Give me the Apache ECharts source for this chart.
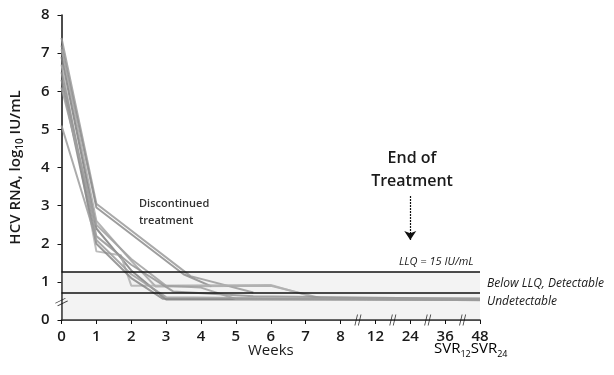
<!DOCTYPE html>
<html>
<head>
<meta charset="utf-8">
<style>
    html, body { margin: 0; padding: 0; overflow: hidden; background: #fff; }
</style>
</head>
<body>
<div id="chart" style="width:614px; height:375px;"></div>
<script src="https://cdn.jsdelivr.net/npm/echarts@6/dist/echarts.min.js"></script>
<script>
    // x positions 0..12 stand for these week labels (axis is broken after 8)
    var weekLabels = ['0', '1', '2', '3', '4', '5', '6', '7', '8', '12', '24', '36', '48'];
    var yTicks = [0, 1, 2, 3, 4, 5, 6, 7, 8];

    var llq = 1.26;          // LLQ = 15 IU/mL line
    var detectLimit = 0.71;  // boundary between detectable and undetectable
    var endOfTreatment = 10; // index of week 24

    // individual patients, [week index, log10 IU/mL]
    var patient1 = [[0, 7.4], [1, 3.05], [3.7, 1.15], [5.5, 0.72]];
    var patient2 = [[0, 7.2], [1, 2.95], [3.5, 1.2], [4.3, 0.88]];
    var patient3 = [[0, 7.1], [1, 2.6], [2, 1.55], [2.7, 0.88], [6, 0.9], [7.5, 0.56], [12, 0.56]];
    var patient4 = [[0, 6.9], [1, 2.4], [2, 1.3], [3, 0.54], [12, 0.54]];
    var patient5 = [[0, 6.7], [1, 1.8], [1.7, 1.7], [2, 0.9], [6, 0.92], [7.3, 0.58], [12, 0.57]];
    var patient6 = [[0, 6.5], [1, 2.2], [2, 1.45], [3.2, 0.75], [5.5, 0.62], [12, 0.55]];
    var patient7 = [[0, 6.3], [1, 2.0], [2, 1.1], [2.9, 0.56], [12, 0.53]];
    var patient8 = [[0, 6.1], [1, 2.5], [2, 1.6], [3, 0.9], [4, 0.85], [5, 0.55], [12, 0.55]];
    var patient9 = [[0, 5.1], [1, 2.1], [2, 1.2], [3, 0.6], [12, 0.52]];
    var patients = [patient1, patient2, patient3, patient4, patient5, patient6, patient7, patient8, patient9];

    // where the axes are broken
    var xBreaks = [8.5, 9.5, 10.5, 11.5];
    var yBreak = 0.47;

    var chart = echarts.init(document.getElementById('chart'), null, {renderer: 'canvas'});
    var font = 'Open Sans';
    var ink = '#1a1a1a';
    var lineGray = ['#9a9a9a', '#8c8c8c', '#a6a6a6', '#7f7f7f', '#b0b0b0', '#949494', '#888888', '#a0a0a0', '#9c9c9c'];

    var series = patients.map(function (p, i) {
        return {
            type: 'line',
            data: p,
            symbol: 'none',
            z: 3,
            lineStyle: {color: lineGray[i], width: 2, opacity: 0.85}
        };
    });

    // shaded band, limit lines and end-of-treatment arrow
    series.push({
        type: 'line',
        data: [],
        markArea: {
            silent: true,
            itemStyle: {color: 'rgba(200,200,200,0.22)'},
            data: [[{coord: [0, 0]}, {coord: [12, llq]}]]
        },
        markLine: {
            silent: true,
            symbol: 'none',
            label: {show: false},
            lineStyle: {color: '#111', width: 1.6, type: 'solid'},
            data: [
                [{coord: [0, llq]}, {coord: [12, llq]}],
                [{coord: [0, detectLimit]}, {coord: [12, detectLimit]}],
                [{coord: [endOfTreatment, 3.25], symbol: 'none'},
                 {coord: [endOfTreatment, 2.1], symbol: 'arrow', symbolSize: 9, lineStyle: {width: 1.2, type: [2, 1]}}]
            ]
        }
    });

    // break marks
    var breakSymbol = 'path://M0,10L3,0L4,0L1,10Z M4,10L7,0L8,0L5,10Z';
    series.push({
        type: 'scatter',
        data: xBreaks.map(function (x) { return [x, 0]; }),
        symbol: breakSymbol,
        symbolSize: [7, 11],
        itemStyle: {color: '#111'},
        z: 5,
        silent: true
    });
    series.push({
        type: 'scatter',
        data: [[0, yBreak]],
        symbol: breakSymbol,
        symbolSize: [7, 11],
        symbolRotate: -50,
        itemStyle: {color: '#111'},
        z: 5,
        silent: true
    });

    var subRich = {
        a: {fontFamily: font, fontSize: 15, color: ink, lineHeight: 20},
        s: {fontFamily: font, fontSize: 9, color: ink, lineHeight: 20, verticalAlign: 'bottom', padding: [0, 0, 0, 0]}
    };

    var option = {
        animation: false,
        backgroundColor: '#fff',
        grid: {left: 61, right: 134, top: 15, bottom: 55},
        xAxis: {
            type: 'value',
            min: 0,
            max: 12,
            interval: 1,
            axisLine: {lineStyle: {color: '#111', width: 1.5}},
            axisTick: {show: true, length: 4, lineStyle: {color: '#111'}},
            splitLine: {show: false},
            axisLabel: {
                color: ink,
                fontFamily: font,
                fontSize: 15,
                fontWeight: 600,
                margin: 9,
                formatter: function (v) { return weekLabels[v]; }
            }
        },
        yAxis: {
            type: 'value',
            min: yTicks[0],
            max: yTicks[yTicks.length - 1],
            interval: 1,
            name: '{a|HCV RNA, log}{s|10}{a| IU/mL}',
            nameLocation: 'middle',
            nameGap: 36,
            nameTextStyle: {
                rich: {
                    a: {fontFamily: font, fontSize: 15, fontWeight: 600, color: ink, lineHeight: 20},
                    s: {fontFamily: font, fontSize: 10, fontWeight: 600, color: ink, lineHeight: 20, verticalAlign: 'bottom'}
                }
            },
            axisLine: {show: true, lineStyle: {color: '#111', width: 1.5}},
            axisTick: {show: true, length: 4, lineStyle: {color: '#111'}},
            splitLine: {show: false},
            axisLabel: {color: ink, fontFamily: font, fontSize: 15, fontWeight: 600, margin: 12}
        },
        graphic: [
            {type: 'text', left: 248, top: 343, style: {text: 'Weeks', font: '15px "Open Sans"', fill: ink}},
            {type: 'text', left: 434, top: 341, style: {
                text: '{a|SVR}{s|12}{a|SVR}{s|24}',
                rich: subRich
            }},
            {type: 'text', x: 412, y: 150, style: {text: 'End of', font: '600 16px "Open Sans"', fill: ink, align: 'center'}},
            {type: 'text', x: 412, y: 173, style: {text: 'Treatment', font: '600 16px "Open Sans"', fill: ink, align: 'center'}},
            {type: 'text', left: 139, top: 195, style: {text: 'Discontinued\ntreatment', font: '600 11px "Open Sans"', fill: '#333', lineHeight: 17}},
            {type: 'text', left: 399, top: 256, style: {text: 'LLQ = 15 IU/mL', font: 'italic 11px "Open Sans"', fill: ink}},
            {type: 'text', left: 487, top: 278, style: {text: 'Below LLQ, Detectable', font: 'italic 12px "Open Sans"', fill: ink}},
            {type: 'text', left: 487, top: 296, style: {text: 'Undetectable', font: 'italic 12px "Open Sans"', fill: ink}}
        ],
        series: series
    };

    chart.setOption(option);
</script>
</body>
</html>
